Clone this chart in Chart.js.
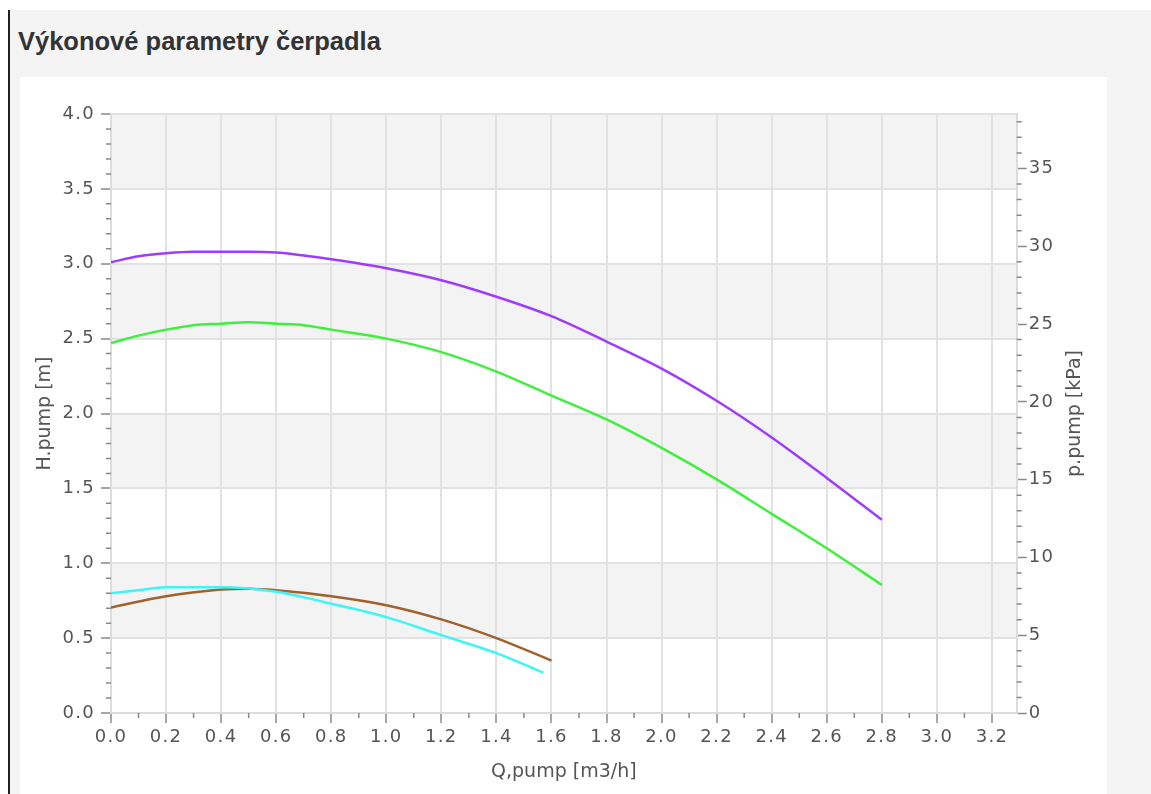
<!DOCTYPE html>
<html lang="cs">
<head>
<meta charset="utf-8">
<title>Výkonové parametry čerpadla</title>
<script src="https://cdn.jsdelivr.net/npm/chart.js@4.4.1/dist/chart.umd.min.js"></script>
<style>
  html, body { margin: 0; padding: 0; background: #fff; }
  body { position: relative; width: 1151px; height: 794px; overflow: hidden; }
  .box { position: absolute; left: 8px; top: 10px; width: 1141px; height: 784px; background: #f4f4f4; border-left: 2px solid #222; }
  h2 { position: absolute; left: 18px; top: 27px; margin: 0; font: bold 25.5px "Liberation Sans", Arial, sans-serif; color: #333; }
  .panel { position: absolute; left: 20px; top: 77px; width: 1087px; height: 717px; background: #fff; }
</style>
</head>
<body>
<div class="box"></div>
<h2>Výkonové parametry čerpadla</h2>
<div class="panel"><canvas id="graf"></canvas></div>
<script>
// Q [m3/h] vs H [m] for each pump curve
const qFialova = [0, 0.1, 0.2, 0.3, 0.4, 0.5, 0.6, 0.7, 0.8, 1.0, 1.2, 1.4, 1.6, 1.8, 2.0, 2.2, 2.4, 2.6, 2.8];
const hFialova = [3.01, 3.05, 3.07, 3.08, 3.08, 3.08, 3.075, 3.055, 3.03, 2.97, 2.89, 2.78, 2.65, 2.48, 2.30, 2.085, 1.84, 1.57, 1.29];

const qZelena = [0, 0.1, 0.2, 0.3, 0.4, 0.5, 0.6, 0.7, 0.8, 1.0, 1.2, 1.4, 1.6, 1.8, 2.0, 2.2, 2.4, 2.6, 2.8];
const hZelena = [2.47, 2.52, 2.56, 2.59, 2.60, 2.61, 2.60, 2.59, 2.56, 2.50, 2.41, 2.28, 2.12, 1.96, 1.77, 1.56, 1.33, 1.10, 0.855];

const qAzurova = [0, 0.1, 0.2, 0.4, 0.6, 0.8, 1.0, 1.2, 1.4, 1.57];
const hAzurova = [0.80, 0.82, 0.84, 0.84, 0.81, 0.73, 0.64, 0.52, 0.40, 0.27];

const qHneda = [0, 0.2, 0.4, 0.5, 0.6, 0.8, 1.0, 1.2, 1.4, 1.6];
const hHneda = [0.705, 0.78, 0.825, 0.83, 0.82, 0.78, 0.72, 0.625, 0.50, 0.35];

// axis ranges
const qMax = 3.29;
const hMax = 4.0;
const pMax = 38.5;

const fontTick = { family: "DejaVu Sans", size: 18 };
const fontTitle = { family: "DejaVu Sans", size: 19 };
const barvaText = "#555";
const barvaMrizka = "#e2e2e2";
const barvaTick = "#888";

function body(q, h) {
    return q.map((x, i) => ({ x: x, y: h[i] }));
}

function krivka(q, h, barva) {
    return {
        data: body(q, h),
        borderColor: barva,
        borderWidth: 2.5,
        pointRadius: 0,
        cubicInterpolationMode: "monotone",
        yAxisID: "y",
    };
}

// alternating grey bands, minor ticks, right axis title
const pasyAMinor = {
    id: "pasyAMinor",
    beforeDraw(chart) {
        const { ctx, chartArea, scales } = chart;
        const t = scales.y.ticks;
        ctx.save();
        ctx.fillStyle = "#f3f3f3";
        for (let i = 1; i < t.length - 1; i += 2) {
            const y1 = scales.y.getPixelForValue(t[i + 1].value);
            const y0 = scales.y.getPixelForValue(t[i].value);
            ctx.fillRect(chartArea.left, y1, chartArea.right - chartArea.left, y0 - y1);
        }
        ctx.restore();
    },
    afterDatasetsDraw(chart) {
        // tick labels are drawn in a later layer, a bit wider spaced
        chart.ctx.letterSpacing = "1.3px";
    },
    afterDraw(chart) {
        const { ctx, chartArea, scales } = chart;
        ctx.letterSpacing = "0px";
        ctx.save();
        ctx.strokeStyle = barvaTick;
        ctx.lineWidth = 1.5;
        ctx.beginPath();
        for (let k = 1; k / 10 <= qMax; k += 2) {
            const x = scales.x.getPixelForValue(k / 10);
            ctx.moveTo(x, chartArea.bottom);
            ctx.lineTo(x, chartArea.bottom + 5);
        }
        for (let k = 1; k / 10 <= hMax; k++) {
            if (k % 5 === 0) continue;
            const y = scales.y.getPixelForValue(k / 10);
            ctx.moveTo(chartArea.left - 5, y);
            ctx.lineTo(chartArea.left, y);
        }
        for (let k = 1; k <= pMax; k++) {
            if (k % 5 === 0) continue;
            const y = scales.y2.getPixelForValue(k);
            ctx.moveTo(chartArea.right, y);
            ctx.lineTo(chartArea.right + 5, y);
        }
        ctx.stroke();

        ctx.translate(scales.y2.right - 32, (chartArea.top + chartArea.bottom) / 2);
        ctx.rotate(-Math.PI / 2);
        ctx.font = fontTitle.size + 'px "' + fontTitle.family + '"';
        ctx.fillStyle = barvaText;
        ctx.textAlign = "center";
        ctx.textBaseline = "middle";
        ctx.fillText("p.pump [kPa]", 0, 0);
        ctx.restore();
    },
};

new Chart(document.getElementById("graf"), {
    type: "line",
    data: {
        datasets: [
            krivka(qFialova, hFialova, "#9d3cff"),
            krivka(qZelena, hZelena, "#3cf03c"),
            krivka(qAzurova, hAzurova, "#3cf5f5"),
            krivka(qHneda, hHneda, "#a0622e"),
        ],
    },
    options: {
        responsive: true,
        maintainAspectRatio: false,
        animation: false,
        layout: { padding: { top: 37, left: 0, right: 0, bottom: 0 } },
        plugins: { legend: { display: false }, tooltip: { enabled: false } },
        scales: {
            x: {
                type: "linear",
                min: 0,
                max: qMax,
                afterFit: (s) => { s.height = 81; },
                ticks: {
                    z: 1,
                    stepSize: 0.2,
                    includeBounds: false,
                    maxRotation: 0,
                    padding: 4,
                    font: fontTick,
                    color: barvaText,
                    callback: (v) => v.toFixed(1),
                },
                grid: { color: barvaMrizka, lineWidth: 2, tickLength: 10, tickColor: barvaTick, tickWidth: 1.5 },
                border: { color: "#dcdcdc", width: 2 },
                title: { display: true, text: "Q,pump [m3/h]", font: fontTitle, color: barvaText, padding: { bottom: 11 } },
            },
            y: {
                type: "linear",
                position: "left",
                min: 0,
                max: hMax,
                afterFit: (s) => { s.width = 91; },
                ticks: {
                    z: 1,
                    stepSize: 0.5,
                    padding: 6,
                    font: fontTick,
                    color: barvaText,
                    callback: (v) => v.toFixed(1),
                },
                grid: { color: barvaMrizka, lineWidth: 2, tickLength: 10, tickColor: barvaTick, tickWidth: 1.5 },
                border: { color: "#dcdcdc", width: 2 },
                title: { display: true, text: "H.pump [m]", font: fontTitle, color: barvaText, padding: { top: 14 } },
            },
            y2: {
                type: "linear",
                position: "right",
                min: 0,
                max: pMax,
                afterFit: (s) => { s.width = 90.3; },
                ticks: {
                    z: 1,
                    stepSize: 5,
                    includeBounds: false,
                    padding: 2,
                    font: fontTick,
                    color: barvaText,
                },
                grid: { drawOnChartArea: false, tickLength: 10, tickColor: barvaTick, tickWidth: 1.5 },
                border: { color: "#dcdcdc", width: 2 },
                title: { display: false },
            },
        },
    },
    plugins: [pasyAMinor],
});
</script>
</body>
</html>
